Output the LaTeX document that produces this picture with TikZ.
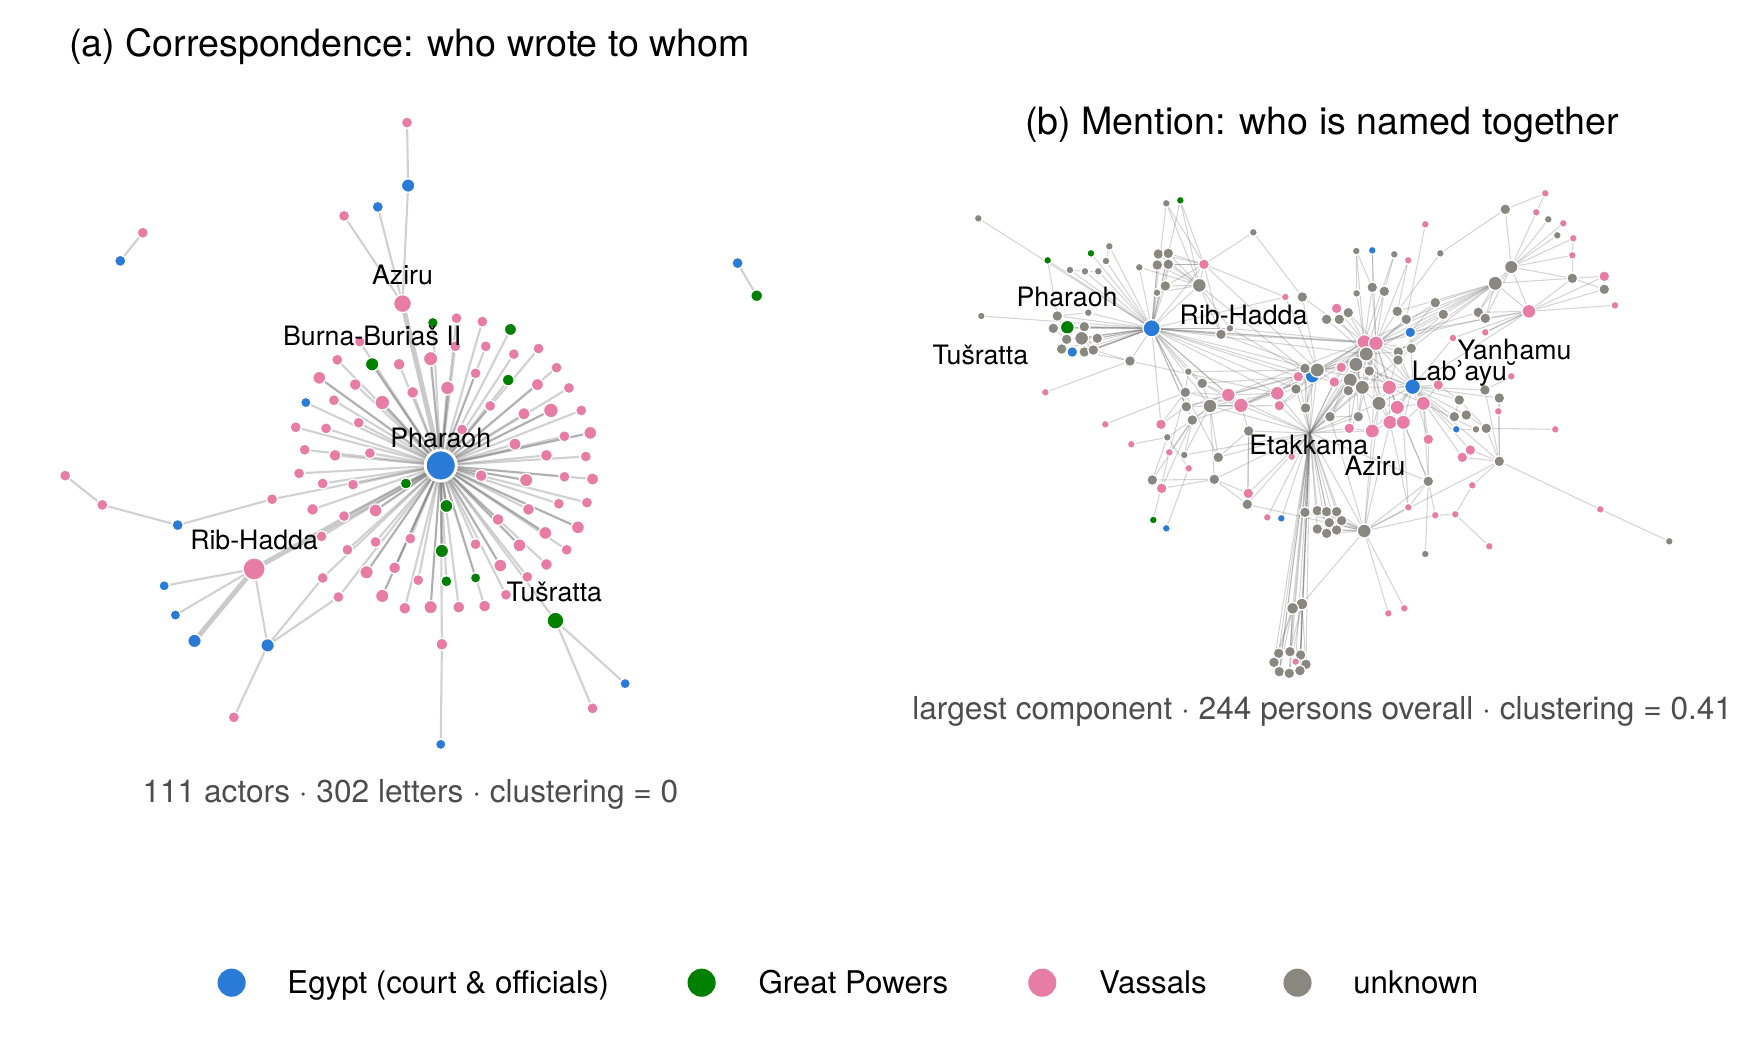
\documentclass[tikz,border=0pt]{standalone}
\usepackage{fontspec}
\setmainfont{TeX Gyre Heros}
\newfontfamily\djv{DejaVu Sans}
\usetikzlibrary{backgrounds}
\definecolor{cb}{HTML}{2A7BD8}
\definecolor{cp}{HTML}{E87DA4}
\definecolor{cv}{HTML}{008000}
\definecolor{cg}{HTML}{888780}
\definecolor{capt}{HTML}{4D4D4D}
\def\fa{1.24}
\def\fb{1.2}
\begin{document}
\begin{tikzpicture}[x=0.011244cm,y=-0.011244cm,
  nd/.style={circle,inner sep=0pt,draw=white,line width=0.35pt},
  ea/.style={draw=black!60,draw opacity=0.3,line width=0.6pt},
  eat/.style={draw=black!60,draw opacity=0.35,line width=1.4pt},
  eb/.style={draw=black!60,draw opacity=0.28,line width=0.3pt},
  lbl/.style={font=\fontsize{7.6}{9}\selectfont,anchor=base,inner sep=0pt},
  ttl/.style={font=\fontsize{10.7}{13}\selectfont,inner sep=0pt},
  capn/.style={font=\fontsize{9}{11}\selectfont,text=capt,anchor=base,inner sep=0pt},
  legt/.style={font=\fontsize{8.9}{11}\selectfont,anchor=base west,inner sep=0pt},
  legd/.style={circle,inner sep=0pt,minimum size=8pt}]
\useasboundingbox (0,0) rectangle (1568,926);

% ---------------- panel (a) nodes ----------------
\node[nd,fill=cb,minimum size=8.8pt,line width=0.8pt] (ph) at (392,414) {};
\node[nd,fill=cp,minimum size=5.1pt] (az) at (358,270) {};
\node[nd,fill=cp,minimum size=6.3pt] (rh) at (226,506) {};
\node[nd,fill=cv,minimum size=4.8pt] (tu) at (494,552) {};
\foreach \n/\x/\y/\c/\s in {t1/362/109/cp/2.6,t2/363/165/cb/3.1,t3/336/184/cb/2.6,t4/306/192/cp/2.6,
 t5/127/207/cp/2.6,t6/107/232/cb/2.6,t7/656/234/cb/2.6,t8/673/263/cv/2.7,
 e1/158/467/cb/2.6,e2/91/449/cp/2.6,e3/58/423/cp/2.6,
 b1/146/521/cb/2.4,b2/156/547/cb/2.4,b3/173/570/cb/3.1,b4/238/574/cb/3.1,b5/208/638/cp/2.6,
 b6/392/662/cb/2.4,b7/556/608/cb/2.4,b8/527/630/cp/2.6,
 h1/385/287/cv/2.5,h2/320/304/cp/2.5}
 \node[nd,fill=\c,minimum size={\fa*\s pt}] (\n) at (\x,\y) {};
\foreach \n/\x/\y/\c/\s in {r1/406/283/cp/2.6,r2/429/286/cp/2.6,r3/454/293/cv/2.8,r4/479/310/cp/2.6,
 r5/432/308/cp/2.6,r6/405/308/cp/2.6,r7/300/320/cp/2.6,r8/331/324/cv/3.1,r9/355/324/cp/2.7,
 r10/383/319/cp/3.3,r11/457/315/cp/2.6,r12/495/327/cp/2.6,r13/284/336/cp/3.0,r14/316/342/cp/2.7,
 r15/367/349/cp/2.7,r16/398/345/cp/3.2,r17/423/332/cp/2.6,r18/452/338/cv/2.7,r19/478/342/cp/2.8,
 r20/506/345/cp/2.6,r21/272/358/cb/2.4,r22/297/356/cp/2.6,r23/340/358/cp/3.4,r24/436/361/cp/2.6,
 r25/466/368/cp/2.8,r26/490/365/cp/3.4,r27/517/365/cp/2.6,r28/263/380/cp/2.6,r29/290/381/cp/2.6,
 r30/319/376/cp/2.6,r31/411/382/cp/2.6,r32/458/395/cp/2.8,r33/502/388/cp/2.6,r34/525/385/cp/3.0,
 r35/271/400/cp/2.6,r36/298/405/cp/2.7,r37/329/403/cp/2.6,r38/486/405/cp/2.7,r39/521/406/cp/2.6,
 r40/266/421/cp/2.6,r41/287/430/cp/2.6,r42/314/431/cp/2.6,r43/361/430/cv/2.6,r44/428/423/cp/2.7,
 r45/468/427/cp/3.1,r46/502/424/cp/2.6,r47/527/426/cp/2.8,r48/242/444/cp/2.6,r49/278/453/cp/2.7,
 r50/306/459/cp/2.6,r51/334/454/cp/3.0,r52/397/450/cv/3.0,r53/470/453/cp/2.7,r54/497/448/cp/2.6,
 r55/522/447/cp/2.6,r56/309/489/cp/2.6,r57/334/482/cp/2.6,r58/365/479/cp/2.6,r59/393/490/cv/3.1,
 r60/423/484/cp/2.6,r61/443/462/cp/2.7,r62/462/485/cp/3.0,r63/485/474/cp/3.0,r64/504/489/cp/2.6,
 r65/514/469/cp/3.0,r66/286/477/cp/2.6,r67/287/514/cp/2.6,r68/326/509/cp/3.1,r69/351/505/cp/2.7,
 r70/372/516/cp/2.6,r71/397/517/cv/2.6,r72/423/514/cv/2.4,r73/445/503/cp/3.0,r74/486/502/cp/2.7,
 r75/469/513/cp/2.6,r76/301/531/cp/2.6,r77/340/530/cp/3.1,r78/360/541/cp/2.7,r79/383/540/cp/3.1,
 r80/408/540/cp/2.7,r81/431/539/cp/2.7,r82/450/529/cp/2.6,r83/393/573/cp/2.7}
 \node[nd,fill=\c,minimum size={\fa*\s pt}] (\n) at (\x,\y) {};

% ---------------- panel (b) nodes ----------------
\begin{scope}[shift={(800.43,133.40)},scale=0.29646]
\node[nd,fill=cb,minimum size=4.9pt] (pB) at (755,535) {};
\foreach \n/\x/\y/\c/\s in {c1/235/205/cg/1.9,c2/799/160/cg/1.9,c3/841/151/cv/1.9,c4/443/331/cv/1.9,
 c5/573/310/cv/1.9,c6/628/289/cg/1.9,c7/618/333/cg/1.9,c8/510/360/cg/1.9,c9/555/364/cg/1.9,
 c10/595/364/cg/1.9,c11/1060/247/cg/1.9,c12/775/312/cg/2.6,c13/805/310/cg/2.6,c14/718/352/cg/1.9,
 c15/772/345/cg/2.6,c16/805/343/cg/2.6,c17/912/343/cp/2.6,c18/898/406/cg/3.3,c19/796/408/cg/2.6,
 c20/771/428/cg/1.9,c21/1156/441/cp/1.9,c23/244/498/cg/1.9,c24/472/498/cg/2.6,c25/565/488/cg/1.9,
 c26/553/530/cg/2.6,c27/502/532/cv/3.3,c28/460/535/cg/2.6,c29/545/565/cg/3.3,c30/592/565/cg/2.6,
 c31/500/568/cg/2.6,c32/485/597/cg/2.6,c33/517/606/cb/2.6,c34/553/606/cg/2.6,c35/580/600/cg/2.6,
 c37/963/553/cg/2.6,c38/990/535/cg/1.9,c39/690/633/cg/2.6,c40/436/727/cp/1.9,c52/1195/680/cp/2.6,
 c64/1188/717/cg/2.6,c65/1132/730/cp/3.3,c66/1138/767/cp/2.6,c73/865/665/cg/1.9,c74/907/700/cg/2.6,
 c75/856/727/cg/2.6,c76/985/735/cp/3.3,c77/1023/766/cp/3.5,c78/930/768/cg/3.3,c79/859/770/cg/2.6,
 c80/877/810/cg/2.6,c81/783/823/cp/2.6,c82/616/823/cp/1.9,c83/802/862/cg/1.9,c84/694/883/cp/1.9,
 c85/808/907/cp/1.9,c86/853/915/cg/1.9,c87/955/922/cg/2.6,c88/866/955/cp/1.9,c89/1046/843/cg/2.6,
 c90/757/990/cg/2.6,c91/943/988/cg/2.6,c92/785/1015/cp/2.6,c93/1045/1030/cp/2.6,c94/1042/1063/cg/2.6,
 c95/760/1110/cv/1.9,c96/799/1135/cb/1.9,c97/1102/1102/cp/1.9,c98/1144/1105/cb/1.9,c99/1175/920/cp/1.9}
 \node[nd,fill=\c,minimum size={\fb*\s pt}] (\n) at (\x,\y) {};
\end{scope}

\begin{scope}[shift={(1156.17,133.40)},scale=0.29646]
\coordinate (etk) at (30,849);
\foreach \n/\x/\y/\c/\s in {d1/736/130/cp/1.9,d2/616/178/cg/2.6,d3/709/187/cp/1.9,d4/745/208/cg/1.9,
 d5/790/220/cp/1.9,d6/376/223/cp/1.9,d7/772/256/cg/1.9,d8/820/265/cp/1.9,d9/169/303/cg/1.9,
 d10/217/301/cb/1.9,d11/283/313/cg/1.9,d12/325/331/cp/1.9,d13/421/310/cg/1.9,d14/817/316/cp/1.9,
 d15/634/351/cg/3.2,d16/586/400/cg/3.4,d17/817/385/cg/2.6,d18/913/379/cp/2.6,d19/913/418/cg/2.6,
 d20/945/466/cp/1.9,d21/687/484/cp/3.3,d22/217/412/cg/2.6,d23/170/430/cg/1.9,d24/253/424/cg/2.6,
 d25/7/441/cg/2.6,d26/110/475/cp/2.6,d27/145/488/cg/2.6,d28/80/508/cg/2.6,d29/118/508/cg/2.6,
 d30/292/484/cg/2.6,d31/319/508/cg/2.6,d32/406/458/cg/2.6,d33/430/493/cg/2.6,d34/535/487/cg/2.6,
 d35/556/505/cg/2.6,d36/331/547/cb/2.6,d37/459/564/cp/1.9,d38/556/547/cp/1.9,
 d47/37/678/cb/3.4,d39/193/576/cp/3.5,
 d40/228/580/cp/3.5,d41/199/612/cg/3.4,d42/295/606/cg/2.6,d43/334/595/cg/2.6,d44/294/630/cg/2.6,
 d46/15/655/cg/2.6,d45/52/660/cg/3.4,d48/124/652/cp/2.6,d49/168/643/cg/3.4,
 d50/208/663/cg/2.6,d51/103/696/cp/2.6,d52/151/690/cg/3.4,d53/187/712/cg/3.4,d54/268/712/cp/3.5,
 d56/415/705/cp/2.6,d57/145/722/cg/2.6,d58/237/760/cg/3.4,d59/292/772/cp/3.4,d60/370/760/cp/3.4,
 d61/17/774/cg/2.6,d62/90/800/cg/2.6,d63/175/800/cg/2.6,d64/148/835/cp/2.6,d65/217/843/cp/3.4,
 d66/270/817/cp/3.4,d67/310/817/cp/3.4,d68/478/750/cg/2.6,d69/598/744/cg/2.6,d70/555/720/cg/2.6,
 d71/634/679/cp/1.9,d72/595/784/cp/1.9,d73/463/800/cg/2.6,d74/499/795/cg/2.6,d75/469/838/cb/1.9,
 d76/528/838/cg/1.9,d77/559/835/cg/2.6,d78/766/838/cp/1.9,d79/385/868/cp/2.6,d80/511/900/cp/2.6,
 d81/487/922/cp/2.6,d82/598/934/cg/2.6,d83/385/994/cg/2.6,d84/517/1006/cp/1.9,d85/325/1072/cp/1.9,
 d86/406/1096/cp/1.9,d87/466/1093/cp/1.9,d88/568/1189/cp/1.9,d89/901/1078/cp/1.9,d90/1108/1174/cg/1.9,
 d91/193/1143/cg/3.3,
 k1/15/1087/cg/2.6,k2/52/1082/cg/2.6,k3/80/1085/cg/2.6,k4/110/1085/cg/2.6,k5/88/1118/cg/2.6,
 k6/125/1112/cg/2.6,k7/52/1137/cg/2.6,k8/80/1150/cg/2.6,k9/110/1140/cg/2.6}
 \node[nd,fill=\c,minimum size={\fb*\s pt}] (\n) at (\x,\y) {};
\node[nd,fill=cb,minimum size=4.5pt] (lab) at (338,710) {};
\end{scope}

\begin{scope}[shift={(933.83,355.74)},scale=0.29646]
\foreach \n/\x/\y/\c/\s in {f1/1126/462/cg/1.9,f2/1015/640/cp/1.9,f3/1063/625/cp/1.9,
 f4/756/612/cg/2.8,f5/728/625/cg/2.8,q1/686/760/cg/2.6,q2/720/755/cg/2.6,q3/752/765/cg/2.6,
 q4/672/787/cg/2.6,q5/737/785/cp/1.9,q6/768/793/cg/2.6,q7/688/815/cg/2.6,q8/718/820/cg/2.6,q9/750/812/cg/2.6}
 \node[nd,fill=\c,minimum size={\fb*\s pt}] (\n) at (\x,\y) {};
\end{scope}

% ---------------- edges ----------------
\begin{pgfonlayer}{background}
% panel (a)
\foreach \i in {1,...,83} \draw[ea] (ph) -- (r\i);
\foreach \i in {10,16,23,26,51,62,68,77,79,45,13,34,8,52,59,63,65,73}
  \draw[ea] (ph) -- (r\i);
\draw[eat] (ph) -- (rh);
\draw[eat] (ph) -- (az);
\foreach \a/\b in {ph/tu,ph/h1,ph/h2,az/t2,t2/t1,az/t3,az/t4,t5/t6,t7/t8,
  rh/b1,rh/b2,rh/b4,b4/b5,b4/r67,b4/r76,e1/e2,e2/e3,e1/r48,r83/b6,tu/b7,tu/b8}
  \draw[ea] (\a) -- (\b);
\draw[eat] (rh) -- (b3);
% panel (b)
\foreach \b in {c1,c2,c3,c4,c5,c6,c7,c8,c9,c10,c12,c13,c14,c15,c16,c17,c18,c19,c20,c21,
  c23,c24,c25,c26,c27,c28,c29,c30,c31,c32,c33,c34,c35,c37,c38,c39,c73,c74,c75,c76,c77,c78,
  c79,c80,c81,c52,c65,c64,d39,d40,d41,d45,d47,c87,c29,c27,c30,c26,c35,c34,c37,c38}
  \draw[eb] (pB) -- (\b);
\foreach \b in {q1,q2,q3,q4,q5,q6,q7,q8,q9,q3,q7,f4,f5,c97,c98,c93,c94,
  c89,c87,c99,d91,d83,d62,d61,d57,d64,c66,c65,c64,d51,d45,c52,d47,d63,d39,d40,d41,d49,d52,
  d65,c77,d58,d44,d53,k1,k2,k3,k4,k5,k6,k7,k8,k9,c91,c86,c76,c78,d46,d48}
  \draw[eb] (etk) -- (\b);
\foreach \a/\b in {c17/c12,c17/c13,c17/c15,c17/c16,c17/c18,c17/c11,c17/c2,c17/c3,c17/c19,c17/d45,
  c17/c21,c17/c37,c18/c12,c18/c13,c18/c15,c18/c16,c18/c19,c18/c20,c18/c2,c18/c3,c18/c14,c18/d47,
  c18/c37,c18/c38,c11/d25,c12/c13,c15/c16,c12/c15,c13/c16,c16/c19,
  c26/c29,c27/c28,c29/c30,c31/c32,c33/c34,c34/c35,c29/c35,c24/c25,c26/c35,c39/c35,c39/c34,c39/c40,
  c4/c24,c27/c31,c28/c31,c32/c33,c29/c34,c30/c35,c6/c7,c9/c10,c8/c9,
  c21/d45,c37/d45,c37/d40,c38/d39,c38/d47,c73/c75,c73/c74,c74/c76,c75/c76,c76/c77,c77/c65,c76/c65,
  c74/c78,c78/c77,c79/c76,c80/c77,c65/c66,c65/c52,c66/d47,c52/d45,c64/d45,c64/c65,c77/c52,c78/c65,
  c78/c66,c75/c79,c76/c79,c80/c78,c39/c65,c73/d45,c74/d47,c76/d45,c77/d47,c76/c52,c75/c77,c79/c77,
  c80/c76,c74/c77,c65/d39,c66/d40,c52/d41,c77/d41,c76/d39,
  c81/c79,c82/c75,c84/c83,c83/c80,c85/c80,c86/c78,c87/c78,c87/c89,c88/c83,c90/c91,c90/c80,c92/c91,
  c91/c93,c91/c94,c95/c85,c96/c88,c89/c77,c90/c83,c81/c75,c86/c80,c91/c78,c85/c75,c92/c80,c94/c89,
  c93/c89,
  f5/q1,f5/q2,f5/q4,f5/q7,f4/q3,f4/q6,f4/q9,f4/q8,f5/q8,f4/q2,
  d91/k1,d91/k2,d91/k3,d91/k4,d91/k5,d91/k6,d91/k7,d91/k8,d91/k9,d91/d82,d91/f2,d91/f3,d91/c94,
  d91/d83,d91/f4,d91/d86,d91/d85,d91/d65,d91/d66,d91/d62,d91/d58,k2/k5,k3/k6,k7/k8,k1/k2,
  d83/d85,d83/d79,d83/d59,d83/d67,d83/f1,d83/d86,d83/d60,d84/d82,d87/d84,d87/d86,d87/d88,d85/d66,
  d85/d67,d82/d77,d82/d81,d82/d80,d82/d72,d82/d70,d82/lab,d82/d89,d82/d69,d89/d90,
  d78/d77,d77/d76,d77/d74,d76/d75,d75/lab,d73/lab,d74/lab,d80/lab,d81/lab,d80/d81,d79/lab,d79/d60,
  d68/lab,d69/lab,d70/lab,d71/d70,d72/d69,d68/d73,d56/lab,d37/lab,d37/d21,d38/d21,d76/d60,d77/d68,
  d2/d1,d2/d15,d15/d3,d15/d4,d15/d5,d15/d7,d15/d8,d15/d14,d15/d16,d15/d21,d15/d34,d15/d35,d15/d17,
  d1/d3,d16/d21,d16/d40,d16/d39,d16/d41,d16/d32,d16/d33,d16/d34,d16/d35,d16/d43,d16/d31,d16/d30,
  d16/d42,d17/d14,d17/d18,d17/d19,d17/d21,d17/d16,d18/d19,d19/d21,d20/d21,d18/d21,d21/d34,d21/d35,
  d21/d38,d21/lab,d21/d36,d14/d8,d13/d2,d13/d30,d6/d31,d12/d30,d12/d40,
  d9/d22,d9/d23,d10/d22,d11/d24,d11/d39,d10/d40,d9/d39,
  d22/d39,d22/d40,d23/d39,d24/d40,d24/d41,d26/d39,d27/d39,d27/d40,d28/d41,d29/d41,d25/d45,d25/d39,
  d30/d40,d31/d40,d31/d41,d32/d40,d33/d42,d34/d40,d35/d40,d36/d43,d36/d40,d32/d36,d33/d36,
  d40/d41,d40/d42,d40/d43,d40/d44,d40/d45,d40/d47,d40/d48,d40/d49,d40/d50,d40/d52,d40/d53,d40/d54,
  d40/lab,d40/d57,d40/d58,d40/d59,d40/d63,d40/d65,
  d39/d41,d39/d45,d39/d47,d39/d48,d39/d49,d39/d51,d39/d52,d39/d57,d39/d62,d39/d64,
  d41/d42,d41/d49,d41/d50,d41/d53,d41/d54,d41/lab,d41/d58,d41/d66,
  lab/d42,lab/d43,lab/d44,lab/d49,lab/d50,lab/d53,lab/d54,lab/d58,lab/d59,lab/d60,lab/d66,lab/d67,
  lab/d65,lab/d45,d49/d52,d49/d53,d49/d45,d49/d48,d49/d63,d49/d65,
  d52/d53,d52/d51,d52/d57,d52/d62,d52/d58,d52/d64,d54/d58,d54/d59,d54/d60,d54/d66,d54/d67,d54/d50,
  d45/d46,d45/d47,d45/d48,d45/d51,d45/d61,d47/d51,d47/d61,d46/d61,
  d58/d59,d58/d65,d58/d66,d59/d60,d59/d67,d60/d67,d65/d66,d66/d67,d62/d63,d63/d64,d64/d65,d57/d62,
  d53/d63,d44/d43,d42/d43,d50/d53,d42/d54,d56/d60,d56/d68}
  \draw[eb] (\a) -- (\b);
\end{pgfonlayer}

% ---------------- labels ----------------
\node[lbl] (la1) at (358,253) {Aziru};
\node[lbl] (la2) at (331,307) {Burna-Buriaš II};
\node[lbl] (la3) at (392,398) {Pharaoh};
\node[lbl] (la4) at (226,489) {Rib-Hadda};
\node[lbl] (la5) at (493,535) {Tušratta};
\node[lbl] (lb1) at (949,273) {Pharaoh};
\node[lbl] (lb2) at (872,324) {Tušratta};
\node[lbl] (lb3) at (1106,288.5) {Rib-Hadda};
\node[lbl] (lb4) at (1164,404) {Etakkama};
\node[lbl] (lb5) at (1223,422.5) {Aziru};
\node[lbl] (lb6) at (1298,338) {Lab{\djv ʾ}ayu};
\node[lbl] (lb7) at (1347,319.5) {Yan{\djv ḫ}amu};

% ---------------- titles and captions ----------------
\node[ttl,anchor=base west] (ta) at (61,50.5) {(a) Correspondence: who wrote to whom};
\node[ttl,anchor=base] (tb) at (1176,120) {(b) Mention: who is named together};
\node[capn] (ca) at (365,714) {111 actors · 302 letters · clustering = 0};
\node[capn] (cbb) at (1176,640) {largest component · 244 persons overall · clustering = 0.41};

% ---------------- legend ----------------
\node[legd,fill=cb] (lg1) at (206,874) {};
\node[legt] (lt1) at (255,883.5) {Egypt (court \& officials)};
\node[legd,fill=cv] (lg2) at (624,874) {};
\node[legt] (lt2) at (674,883.5) {Great Powers};
\node[legd,fill=cp] (lg3) at (927,874) {};
\node[legt] (lt3) at (977,883.5) {Vassals};
\node[legd,fill=cg] (lg4) at (1154,874) {};
\node[legt] (lt4) at (1203,883.5) {unknown};
\end{tikzpicture}
\end{document}
